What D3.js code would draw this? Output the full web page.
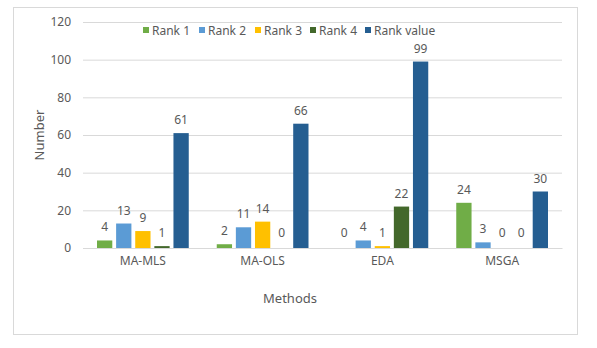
<!DOCTYPE html>
<html>
<head>
<meta charset="utf-8">
<script src="https://cdn.jsdelivr.net/npm/d3@7"></script>
<style>
  body { margin: 0; background: #fff; }
  text { font-family: "Noto Sans", "DejaVu Sans", sans-serif; fill: #595959; }
</style>
</head>
<body>
<svg width="597" height="348"></svg>
<script>
const methods = ["MA-MLS", "MA-OLS", "EDA", "MSGA"];
const seriesNames = ["Rank 1", "Rank 2", "Rank 3", "Rank 4", "Rank value"];
const rank1 = [4, 2, 0, 24];
const rank2 = [13, 11, 4, 3];
const rank3 = [9, 14, 1, 0];
const rank4 = [1, 0, 22, 0];
const rankValue = [61, 66, 99, 30];
const yTicks = [0, 20, 40, 60, 80, 100, 120];
const colors = ["#70ad47", "#5b9bd5", "#ffc000", "#43682b", "#255e91"];

const seriesValues = [rank1, rank2, rank3, rank4, rankValue];

const svg = d3.select("svg");

// chart frame
svg.append("rect")
  .attr("x", 13.5).attr("y", 7.5)
  .attr("width", 564).attr("height", 327)
  .attr("fill", "#fff").attr("stroke", "#d9d9d9");

const plot = { left: 83, right: 562, top: 22, bottom: 248 };

const x = d3.scaleBand().domain(methods).range([plot.left, plot.right]);
const xInner = d3.scaleBand().domain(seriesNames)
  .range([14, x.bandwidth() - 14]).paddingInner(0.2);
const y = d3.scaleLinear().domain([0, 120]).range([plot.bottom, plot.top]);

// gridlines + y labels
const yAxis = svg.append("g")
  .attr("transform", `translate(${plot.left},0)`)
  .call(d3.axisLeft(y).tickValues(yTicks).tickSize(-(plot.right - plot.left)).tickPadding(12));
yAxis.select(".domain").remove();
yAxis.selectAll(".tick line").attr("stroke", "#d9d9d9");
yAxis.selectAll(".tick text").attr("font-size", 12).attr("fill", "#595959");

// x axis
const xAxis = svg.append("g")
  .attr("transform", `translate(0,${plot.bottom})`)
  .call(d3.axisBottom(x).tickSize(0).tickPadding(8));
xAxis.select(".domain").attr("stroke", "#d9d9d9");
xAxis.selectAll(".tick text").attr("font-size", 12).attr("fill", "#595959");

// bars
const rows = methods.map((m, i) => seriesNames.map((s, j) => ({ method: m, series: s, idx: j, value: seriesValues[j][i] })));

const groups = svg.append("g").selectAll("g")
  .data(rows).join("g")
  .attr("transform", d => `translate(${x(d[0].method)},0)`);

groups.selectAll("rect")
  .data(d => d).join("rect")
  .attr("x", d => xInner(d.series))
  .attr("y", d => y(d.value))
  .attr("width", xInner.bandwidth())
  .attr("height", d => y(0) - y(d.value))
  .attr("fill", d => colors[d.idx]);

// value labels sit above the bar, small ones share a common baseline
groups.selectAll("text")
  .data(d => d).join("text")
  .attr("x", d => xInner(d.series) + xInner.bandwidth() / 2)
  .attr("y", d => Math.min(y(d.value) - 9, plot.bottom - 11))
  .attr("text-anchor", "middle")
  .attr("font-size", 12)
  .text(d => d.value);

// axis titles
svg.append("text")
  .attr("transform", "translate(44,135) rotate(-90)")
  .attr("text-anchor", "middle")
  .attr("font-size", 13)
  .text("Number");

svg.append("text")
  .attr("x", 290).attr("y", 303)
  .attr("text-anchor", "middle")
  .attr("font-size", 13)
  .text("Methods");

// legend
const legendX = [143, 199, 255, 310, 365];
const legend = svg.append("g").selectAll("g")
  .data(seriesNames).join("g")
  .attr("transform", (d, i) => `translate(${legendX[i]},31)`);
legend.append("rect")
  .attr("x", 0).attr("y", -4).attr("width", 6).attr("height", 6)
  .attr("fill", (d, i) => colors[i]);
legend.append("text")
  .attr("x", 9).attr("y", 4)
  .attr("font-size", 12)
  .text(d => d);
</script>
</body>
</html>
